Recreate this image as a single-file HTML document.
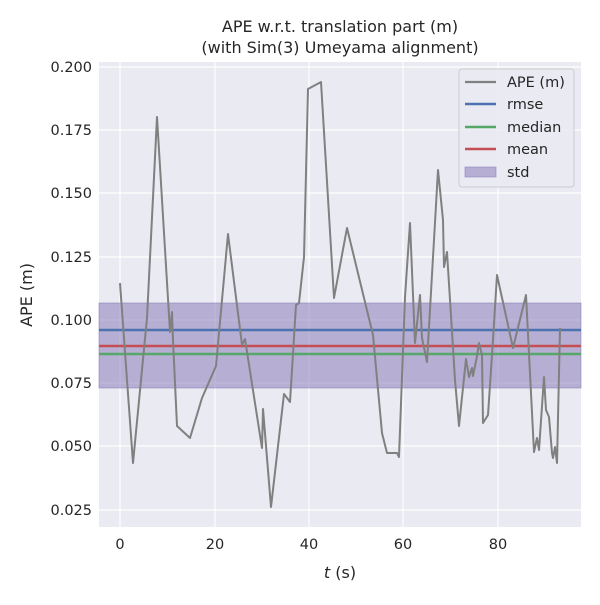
<!DOCTYPE html>
<html><head><style>
body{margin:0;background:#fff;}
svg text{font-family:"DejaVu Sans","Liberation Sans",sans-serif;fill:#262626;}
</style></head><body>
<svg width="600" height="600" xmlns="http://www.w3.org/2000/svg">
<rect width="600" height="600" fill="#fff"/>
<rect x="99" y="62" width="482" height="465" fill="#eaeaf2"/>
<g stroke="#fff" stroke-width="1.2">
<line x1="120" y1="62" x2="120" y2="527"/><line x1="215" y1="62" x2="215" y2="527"/><line x1="309" y1="62" x2="309" y2="527"/><line x1="403" y1="62" x2="403" y2="527"/><line x1="498" y1="62" x2="498" y2="527"/>
<line x1="99" y1="67" x2="581" y2="67"/><line x1="99" y1="130" x2="581" y2="130"/><line x1="99" y1="193" x2="581" y2="193"/><line x1="99" y1="257" x2="581" y2="257"/><line x1="99" y1="320" x2="581" y2="320"/><line x1="99" y1="383" x2="581" y2="383"/><line x1="99" y1="446" x2="581" y2="446"/><line x1="99" y1="510" x2="581" y2="510"/>
</g>
<rect x="99" y="303" width="482" height="85" fill="#8172b3" fill-opacity="0.5" stroke="#8172b3" stroke-opacity="0.5"/>
<line x1="99" y1="330" x2="581" y2="330" stroke="#4c72b0" stroke-width="2.5"/>
<line x1="99" y1="354" x2="581" y2="354" stroke="#55a868" stroke-width="2.5"/>
<line x1="99" y1="346" x2="581" y2="346" stroke="#c44e52" stroke-width="2.5"/>
<polyline fill="none" stroke="#808080" stroke-width="2" stroke-linejoin="round" points="120,283 133,463 147,318 157,117 170,332 172,312 173,340 177,426 190,438 202,398 216,366 228,234 242,345 245,339 262,448 263,409 271,507 284,394 290,402 296,305 299,303 304,257 308,89 321,82 334,298 347,228 373,335 382,433 387,453 397,453 399,457 405,297 410,223 415,343 420,295 422,338 427,362 438,170 443,220 444,267 447,252 455,380 459,426 466,359 469,377 472,368 473,376 477,356 479,343 482,355 483,423 488,415 493,340 497,275 513,348 526,295 534,452 537,438 539,450 544,377 546,410 549,417 552,453 553,458 555,447 557,463 560,328"/>
<g font-size="14.5" text-anchor="end">
<text x="92" y="72">0.200</text><text x="92" y="135">0.175</text><text x="92" y="198">0.150</text><text x="92" y="262">0.125</text><text x="92" y="325">0.100</text><text x="92" y="388">0.075</text><text x="92" y="451">0.050</text><text x="92" y="515">0.025</text>
</g>
<g font-size="14.5" text-anchor="middle">
<text x="120" y="549">0</text><text x="215" y="549">20</text><text x="309" y="549">40</text><text x="403" y="549">60</text><text x="498" y="549">80</text>
<text x="340" y="578" font-size="16"><tspan font-style="italic">t</tspan> (s)</text>
<text x="340" y="32" font-size="16">APE w.r.t. translation part (m)</text>
<text x="340" y="53" font-size="16">(with Sim(3) Umeyama alignment)</text>
</g>
<text transform="translate(32,295) rotate(-90)" font-size="16" text-anchor="middle">APE (m)</text>
<rect x="459" y="69" width="115" height="118" rx="3" fill="#eaeaf2" fill-opacity="0.8" stroke="#ccc"/>
<line x1="465" y1="82" x2="496" y2="82" stroke="#808080" stroke-width="2.2"/>
<line x1="465" y1="104" x2="496" y2="104" stroke="#4c72b0" stroke-width="2.5"/>
<line x1="465" y1="127" x2="496" y2="127" stroke="#55a868" stroke-width="2.5"/>
<line x1="465" y1="149" x2="496" y2="149" stroke="#c44e52" stroke-width="2.5"/>
<rect x="465" y="167" width="31" height="10" fill="#8172b3" fill-opacity="0.5" stroke="#8172b3" stroke-opacity="0.5"/>
<g font-size="14.5">
<text x="507" y="87">APE (m)</text><text x="507" y="109">rmse</text><text x="507" y="132">median</text><text x="507" y="154">mean</text><text x="507" y="177">std</text>
</g>
</svg>
</body></html>
